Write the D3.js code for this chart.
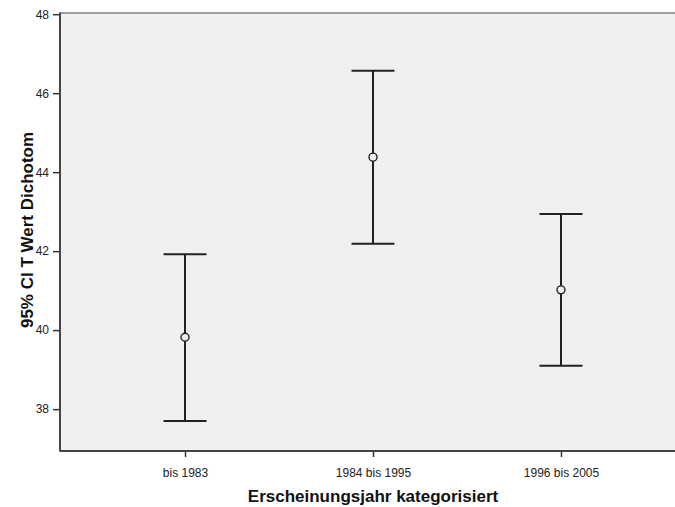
<!DOCTYPE html>
<html>
<head>
<meta charset="utf-8">
<script src="https://cdn.jsdelivr.net/npm/d3@7.9.0/dist/d3.min.js"></script>
<style>
  html, body { margin: 0; padding: 0; background: #fff; }
  svg { display: block; font-family: Arial, "Liberation Sans", sans-serif; }
</style>
</head>
<body>
<div id="chart"></div>
<script>
// categories and CI values
const categories = ['bis 1983', '1984 bis 1995', '1996 bis 2005'];
const means = [39.82, 44.38, 41.02];
const lowerCI = [37.70, 42.19, 39.10];
const upperCI = [41.92, 46.57, 42.94];
const yTicks = [38, 40, 42, 44, 46, 48];

const xTitle = 'Erscheinungsjahr kategorisiert';
const yTitle = '95% CI T Wert Dichotom';

const width = 675;
const height = 507;
const plot = { left: 60, top: 13, right: 686, bottom: 451 };

const svg = d3.select('#chart')
    .append('svg')
    .attr('width', width)
    .attr('height', height);

// dotted grey background like the original
const defs = svg.append('defs');
const pat = defs.append('pattern')
    .attr('id', 'dots')
    .attr('width', 4)
    .attr('height', 4)
    .attr('patternUnits', 'userSpaceOnUse');
pat.append('rect').attr('width', 4).attr('height', 4).attr('fill', '#efefef');
pat.append('rect').attr('x', 1).attr('y', 1).attr('width', 1).attr('height', 1).attr('fill', '#f7f7f7');
pat.append('rect').attr('x', 3).attr('y', 3).attr('width', 1).attr('height', 1).attr('fill', '#f7f7f7');

const xScale = d3.scalePoint()
    .domain(categories)
    .range([plot.left, plot.right])
    .padding(0.665);

const yScale = d3.scaleLinear()
    .domain([36.94, 48.03])
    .range([plot.bottom, plot.top]);

svg.append('rect')
    .attr('x', plot.left)
    .attr('y', plot.top)
    .attr('width', plot.right - plot.left)
    .attr('height', plot.bottom - plot.top)
    .attr('fill', 'url(#dots)');

// top border
svg.append('line')
    .attr('x1', plot.left).attr('x2', plot.right)
    .attr('y1', plot.top).attr('y2', plot.top)
    .attr('stroke', '#808080')
    .attr('stroke-width', 1.5);

const yAxis = svg.append('g')
    .attr('class', 'y-axis')
    .attr('transform', `translate(${plot.left}, 0)`)
    .call(d3.axisLeft(yScale).tickValues(yTicks).tickSize(7).tickPadding(4).tickFormat(d3.format('d')));

const xAxis = svg.append('g')
    .attr('class', 'x-axis')
    .attr('transform', `translate(0, ${plot.bottom})`)
    .call(d3.axisBottom(xScale).tickSize(6).tickPadding(11));

[yAxis, xAxis].forEach(ax => {
    ax.select('.domain').remove();
    ax.selectAll('.tick line').attr('stroke', '#333').attr('stroke-width', 1.5);
    ax.selectAll('.tick text')
        .attr('fill', '#222')
        .style('font-size', '12px')
        .style('font-family', 'Arial, "Liberation Sans", sans-serif');
});

// axis lines
svg.append('line')
    .attr('x1', plot.left).attr('x2', plot.left)
    .attr('y1', plot.top - 0.5).attr('y2', plot.bottom + 0.5)
    .attr('stroke', '#444')
    .attr('stroke-width', 2);
svg.append('line')
    .attr('x1', plot.left).attr('x2', plot.right)
    .attr('y1', plot.bottom).attr('y2', plot.bottom)
    .attr('stroke', '#444')
    .attr('stroke-width', 2);

// error bars
const rows = categories.map((c, i) => ({ cat: c, mean: means[i], lo: lowerCI[i], hi: upperCI[i] }));
const capHalf = 21.5;
const bars = svg.append('g').attr('class', 'bars');

bars.selectAll('line.stem')
    .data(rows)
    .join('line')
    .attr('class', 'stem')
    .attr('x1', d => xScale(d.cat)).attr('x2', d => xScale(d.cat))
    .attr('y1', d => yScale(d.hi)).attr('y2', d => yScale(d.lo))
    .attr('stroke', '#222')
    .attr('stroke-width', 2);

bars.selectAll('line.cap-hi')
    .data(rows)
    .join('line')
    .attr('class', 'cap-hi')
    .attr('x1', d => xScale(d.cat) - capHalf).attr('x2', d => xScale(d.cat) + capHalf)
    .attr('y1', d => yScale(d.hi)).attr('y2', d => yScale(d.hi))
    .attr('stroke', '#222')
    .attr('stroke-width', 2);

bars.selectAll('line.cap-lo')
    .data(rows)
    .join('line')
    .attr('class', 'cap-lo')
    .attr('x1', d => xScale(d.cat) - capHalf).attr('x2', d => xScale(d.cat) + capHalf)
    .attr('y1', d => yScale(d.lo)).attr('y2', d => yScale(d.lo))
    .attr('stroke', '#222')
    .attr('stroke-width', 2);

bars.selectAll('circle')
    .data(rows)
    .join('circle')
    .attr('cx', d => xScale(d.cat))
    .attr('cy', d => yScale(d.mean))
    .attr('r', 4)
    .attr('fill', '#efefef')
    .attr('stroke', '#222')
    .attr('stroke-width', 1.4);

// titles
svg.append('text')
    .attr('x', xScale(categories[1]))
    .attr('y', 502)
    .attr('text-anchor', 'middle')
    .attr('fill', '#111')
    .style('font-size', '17px')
    .style('font-weight', 'bold')
    .text(xTitle);

svg.append('text')
    .attr('transform', `translate(33, ${(plot.top + plot.bottom) / 2 - 2}) rotate(-90)`)
    .attr('text-anchor', 'middle')
    .attr('fill', '#111')
    .style('font-size', '17px')
    .style('font-weight', 'bold')
    .text(yTitle);
</script>
</body>
</html>
